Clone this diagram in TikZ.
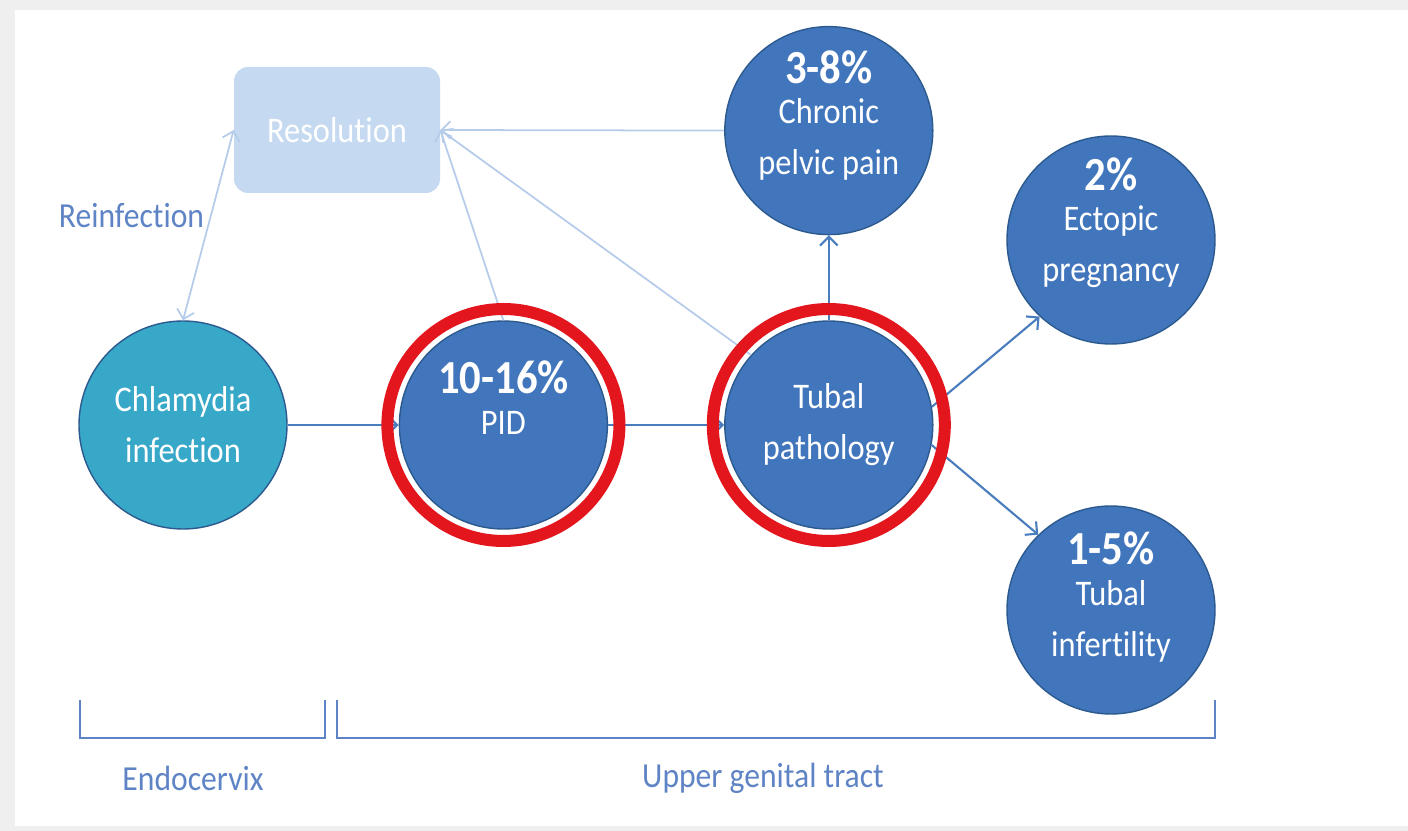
\documentclass[tikz,border=0pt]{standalone}
\usepackage{fontspec}
\setmainfont{Carlito}[FakeStretch=0.9, Ligatures=NoCommon]
\usetikzlibrary{positioning,arrows.meta}

\definecolor{pagegray}{HTML}{EFEFEF}
\definecolor{stageblue}{HTML}{4276BC}
\definecolor{stageedge}{HTML}{2C5A8F}
\definecolor{infectteal}{HTML}{38A8C8}
\definecolor{ringred}{HTML}{E3161E}
\definecolor{flowblue}{HTML}{4A7DBE}
\definecolor{faintblue}{HTML}{B6CCEA}
\definecolor{resolfill}{HTML}{C5D9F0}
\definecolor{tractblue}{HTML}{5F84C6}

\begin{document}
\begin{tikzpicture}[
    stage/.style={circle, draw=stageedge, line width=0.8pt, fill=stageblue,
      minimum size=4.16cm, inner sep=0pt, text=white, align=center,
      font=\fontsize{20.5}{29}\selectfont},
    stagetext/.style={text=white, align=center, font=\fontsize{20.5}{29}\selectfont},
    ring/.style={draw=ringred, line width=0.24cm},
    flow/.style={draw=flowblue, line width=1.2pt, -{Straight Barb[length=5pt,width=10pt]}},
    faint/.style={draw=faintblue, line width=1pt, -{Straight Barb[length=5pt,width=10pt]}},
    tract/.style={draw=tractblue, line width=1.2pt},
    tractlabel/.style={text=tractblue, font=\fontsize{20}{24}\selectfont}
  ]
  \def\pct#1{{\fontsize{27}{27}\selectfont\bfseries #1}}
  \def\rr{2.32cm}

  % Page
  \fill[pagegray] (0,0) rectangle (28.16,16.62);
  \fill[white] (0.3,0.1) rectangle (28.16,16.42);

  % Resolution
  \node[fill=resolfill, rounded corners=8pt, minimum width=4.12cm, minimum height=2.52cm,
    text=white, font=\fontsize{20.5}{24}\selectfont] (resolution) at (6.74,14.02) {Resolution};

  % Stages
  \node[stage, fill=infectteal] (chlamydia) at (3.66,8.12) {Chlamydia\\infection};
  \node[stage, right = 2.22cm of chlamydia] (pid) {};
  \node[stage, right = 2.32cm of pid] (tubal) {Tubal\\pathology};
  \node[stage, above = 1.7cm of tubal] (chronic) {};
  \node[stage] (ectopic) at (22.22,11.82) {};
  \node[stage] (infertility) at (22.22,4.42) {};

  % Texts with rates
  \node[stagetext, yshift=0.55cm] (pid text) at (pid) {\pct{10-16\%}\\[-6pt]PID};
  \node[stagetext, yshift=0.3cm] (chronic text) at (chronic) {\pct{3-8\%}\\[-6pt]Chronic\\pelvic pain};
  \node[stagetext, yshift=0.34cm] (ectopic text) at (ectopic) {\pct{2\%}\\[-6pt]Ectopic\\pregnancy};
  \node[stagetext, yshift=0.26cm] (infertility text) at (infertility) {\pct{1-5\%}\\[-6pt]Tubal\\infertility};

  % Back to resolution
  \draw[faint, {Straight Barb[length=5pt,width=10pt]}-{Straight Barb[length=5pt,width=10pt]}]
    (chlamydia.north) -- (resolution.west)
    node[pos=0.55, left, tractlabel] (reinfection) {Reinfection};
  \draw[faint] (pid.north) -- (resolution.east);
  \draw[faint] (tubal.138) -- (resolution.east);
  \draw[faint] (chronic.west) -- (resolution.east);

  % Progression
  \draw[flow] (chlamydia) -- (pid);
  \draw[flow] (pid) -- (tubal);
  \draw[flow] (tubal) -- (chronic);
  \draw[flow] (tubal.10) -- (ectopic.227);
  \draw[flow] (tubal.349) -- (infertility.134);

  % Highlight
  \draw[ring] (pid) circle (\rr);
  \draw[ring] (tubal) circle (\rr);

  % Sites
  \draw[tract] (1.6,2.62) -- (1.6,1.86) -- (6.5,1.86) -- (6.5,2.62);
  \draw[tract] (6.74,2.62) -- (6.74,1.86) -- (24.3,1.86) -- (24.3,2.62);
  \node[tractlabel] (endocervix) at (3.86,1.06) {Endocervix};
  \node[tractlabel] (upper tract) at (15.26,1.06) {Upper genital tract};
\end{tikzpicture}
\end{document}
